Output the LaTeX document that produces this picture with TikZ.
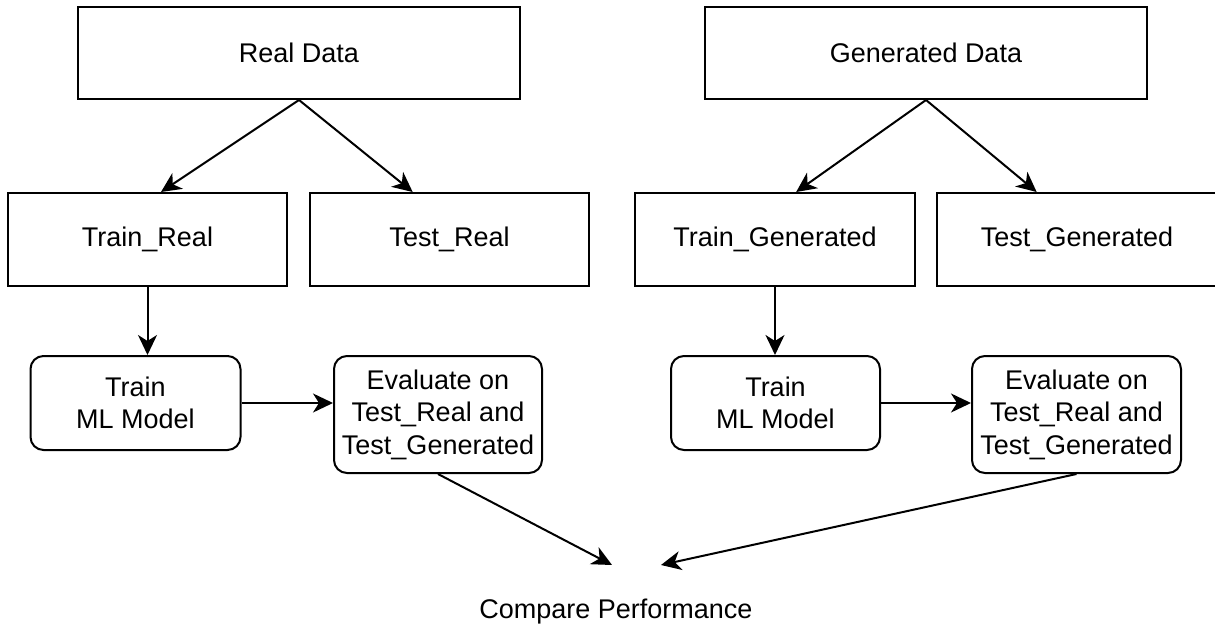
\documentclass[tikz,border=0pt]{standalone}
\usepackage{fontspec}
\setmainfont{Liberation Sans}
\usetikzlibrary{arrows.meta,calc}

\tikzset{
  box/.style={draw, line width=2pt, inner sep=0pt, align=center,
    font=\fontsize{27}{32.5}\selectfont},
  roundbox/.style={box, rounded corners=13pt},
  flow/.style={line width=2pt, -{Stealth[length=20pt,width=19pt,inset=6pt]}},
  plain/.style={inner sep=0pt, align=center, font=\fontsize{27}{32.5}\selectfont}
}

\begin{document}
\begin{tikzpicture}[x=1pt,y=-1pt]
  \useasboundingbox (0,0) rectangle (1215,628);

  % data sources
  \node[box, minimum width=442pt, minimum height=92pt] (realdata) at (299,53) {Real Data};
  \node[box, minimum width=442pt, minimum height=92pt] (gendata) at (926,53) {Generated Data};

  % splits
  \node[box, minimum width=279pt, minimum height=93pt] (trainreal) at (147.5,239.5) {Train\_Real};
  \node[box, minimum width=279pt, minimum height=93pt] (testreal) at (449.5,239.5) {Test\_Real};
  \node[box, minimum width=280pt, minimum height=93pt] (traingen) at (775,239.5) {Train\_Generated};
  \node[box, minimum width=280pt, minimum height=93pt] (testgen) at (1077,239.5) {Test\_Generated};

  % training and evaluation
  \node[roundbox, minimum width=210pt, minimum height=94pt] (trainmlA) at (135.5,403) {Train\\ML Model};
  \node[roundbox, minimum width=208pt, minimum height=117pt] (evalA) at (438,414.5) {Evaluate on\\Test\_Real and\\Test\_Generated};
  \node[roundbox, minimum width=209pt, minimum height=94pt] (trainmlB) at (775.5,403) {Train\\ML Model};
  \node[roundbox, minimum width=209pt, minimum height=117pt] (evalB) at (1076.5,414.5) {Evaluate on\\Test\_Real and\\Test\_Generated};

  % comparison
  \node[plain] (compare) at (616,612) {Compare Performance};
  \coordinate (cmpA) at (612,565);
  \coordinate (cmpB) at (661,565);

  % connectors
  \draw[flow] (realdata.south) -- ($(trainreal.north west)!0.548!(trainreal.north east)$);
  \draw[flow] (realdata.south) -- ($(testreal.north west)!0.369!(testreal.north east)$);
  \draw[flow] (gendata.south) -- ($(traingen.north west)!0.575!(traingen.north east)$);
  \draw[flow] (gendata.south) -- ($(testgen.north west)!0.357!(testgen.north east)$);

  \draw[flow] (trainreal.south) -- (trainreal.south |- trainmlA.north);
  \draw[flow] (traingen.south) -- (traingen.south |- trainmlB.north);

  \draw[flow] (trainmlA.east) -- (trainmlA.east -| evalA.west);
  \draw[flow] (trainmlB.east) -- (trainmlB.east -| evalB.west);

  \draw[flow] (evalA.south) -- (cmpA);
  \draw[flow] (evalB.south) -- (cmpB);
\end{tikzpicture}
\end{document}
